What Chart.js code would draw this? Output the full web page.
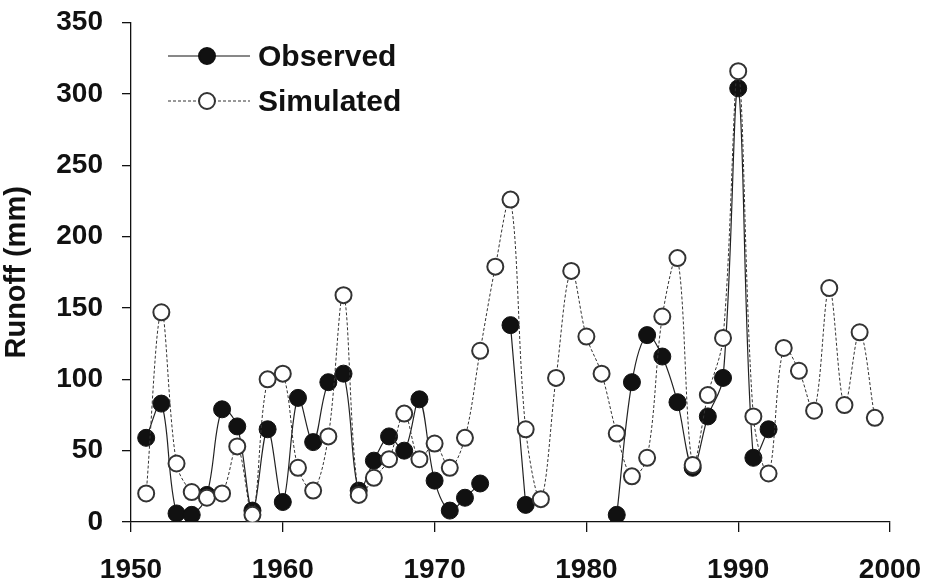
<!DOCTYPE html>
<html>
<head>
<meta charset="utf-8">
<script src="https://cdn.jsdelivr.net/npm/chart.js@4.4.1/dist/chart.umd.min.js"></script>
<style>
  html, body { margin: 0; padding: 0; background: #fff; }
  #wrap { width: 928px; height: 580px; position: relative; }
</style>
</head>
<body>
<div id="wrap"><canvas id="runoffChart"></canvas></div>
<script>
// data
const years = [1951, 1952, 1953, 1954, 1955, 1956, 1957, 1958, 1959, 1960,
               1961, 1962, 1963, 1964, 1965, 1966, 1967, 1968, 1969, 1970,
               1971, 1972, 1973, 1974, 1975, 1976, 1977, 1978, 1979, 1980,
               1981, 1982, 1983, 1984, 1985, 1986, 1987, 1988, 1989, 1990,
               1991, 1992, 1993, 1994, 1995, 1996, 1997, 1998, 1999];
const observed = [59, 83, 6, 5, 19, 79, 67, 8, 65, 14,
                  87, 56, 98, 104, 22, 43, 60, 50, 86, 29,
                  8, 17, 27, null, 138, 12, null, null, null, null,
                  null, 5, 98, 131, 116, 84, 38, 74, 101, 304,
                  45, 65, null, null, null, null, null, null, null];
const simulated = [20, 147, 41, 21, 17, 20, 53, 5, 100, 104,
                   38, 22, 60, 159, 19, 31, 44, 76, 44, 55,
                   38, 59, 120, 179, 226, 65, 16, 101, 176, 130,
                   104, 62, 32, 45, 144, 185, 40, 89, 129, 316,
                   74, 34, 122, 106, 78, 164, 82, 133, 73];
const xTicks = [1950, 1960, 1970, 1980, 1990, 2000];
const yTicks = [0, 50, 100, 150, 200, 250, 300, 350];

const ink = '#111';
const fontFamily = '"Liberation Sans", Arial, sans-serif';

const toPoints = arr => years.map((yr, i) => ({ x: yr, y: arr[i] }));

// legend with a line sample through the marker, like the original
const lineLegend = {
    id: 'lineLegend',
    afterDraw(chart) {
        const ctx = chart.ctx;
        const items = [
            { label: 'Observed', y: 56, dash: [], fill: ink, stroke: ink },
            { label: 'Simulated', y: 101, dash: [3, 2], fill: '#fff', stroke: '#333' }
        ];
        ctx.save();
        items.forEach(it => {
            ctx.setLineDash(it.dash);
            ctx.strokeStyle = it.stroke;
            ctx.lineWidth = 1;
            ctx.beginPath();
            ctx.moveTo(168, it.y);
            ctx.lineTo(250, it.y);
            ctx.stroke();
            ctx.setLineDash([]);
            ctx.beginPath();
            ctx.arc(207, it.y, 8, 0, Math.PI * 2);
            ctx.fillStyle = it.fill;
            ctx.fill();
            ctx.lineWidth = 2;
            ctx.stroke();
            ctx.fillStyle = ink;
            ctx.font = 'bold 30px ' + fontFamily;
            ctx.textAlign = 'left';
            ctx.textBaseline = 'middle';
            ctx.fillText(it.label, 258, it.y + 2);
        });
        ctx.restore();
    }
};

new Chart(document.getElementById('runoffChart').getContext('2d'), {
    type: 'line',
    data: {
        datasets: [
            {
                label: 'Simulated',
                data: toPoints(simulated),
                borderColor: '#333',
                borderWidth: 1,
                borderDash: [3, 2],
                pointBackgroundColor: '#fff',
                pointBorderColor: '#333',
                pointBorderWidth: 2,
                pointRadius: 8,
                tension: 0.35,
                spanGaps: false,
                order: 0
            },
            {
                label: 'Observed',
                data: toPoints(observed),
                borderColor: '#222',
                borderWidth: 1.2,
                pointBackgroundColor: ink,
                pointBorderColor: ink,
                pointBorderWidth: 1,
                pointRadius: 8.5,
                tension: 0.35,
                spanGaps: false,
                order: 1
            }
        ]
    },
    options: {
        responsive: true,
        maintainAspectRatio: false,
        animation: false,
        layout: { padding: { left: 0, right: 38, top: 22.7, bottom: 0 } },
        plugins: {
            legend: { display: false },
            tooltip: { enabled: false }
        },
        scales: {
            x: {
                type: 'linear',
                min: 1950,
                max: 2000,
                afterBuildTicks: s => { s.ticks = xTicks.map(v => ({ value: v })); },
                afterFit: s => {
                    s.height = 58;
                    s.paddingLeft = 0;
                    s.paddingRight = 0;
                },
                border: { color: ink, width: 1.3 },
                grid: { drawOnChartArea: false, drawTicks: true, tickLength: 10, color: ink, lineWidth: 1.3 },
                ticks: {
                    color: ink,
                    padding: 21,
                    font: { family: fontFamily, size: 28, weight: 'bold' },
                    callback: v => String(v)
                }
            },
            y: {
                min: 0,
                max: 350,
                afterBuildTicks: s => { s.ticks = yTicks.map(v => ({ value: v })); },
                afterFit: s => {
                    s.width = 131;
                    s.paddingTop = 0;
                    s.paddingBottom = 0;
                },
                border: { color: ink, width: 1.3 },
                grid: { drawOnChartArea: false, drawTicks: true, tickLength: 9, color: ink, lineWidth: 1.3 },
                title: {
                    display: true,
                    text: 'Runoff (mm)',
                    color: ink,
                    padding: { top: 0, bottom: 0 },
                    font: { family: fontFamily, size: 29, weight: 'bold' }
                },
                ticks: {
                    color: ink,
                    padding: 19,
                    font: { family: fontFamily, size: 28, weight: 'bold' }
                }
            }
        }
    },
    plugins: [lineLegend]
});
</script>
</body>
</html>
